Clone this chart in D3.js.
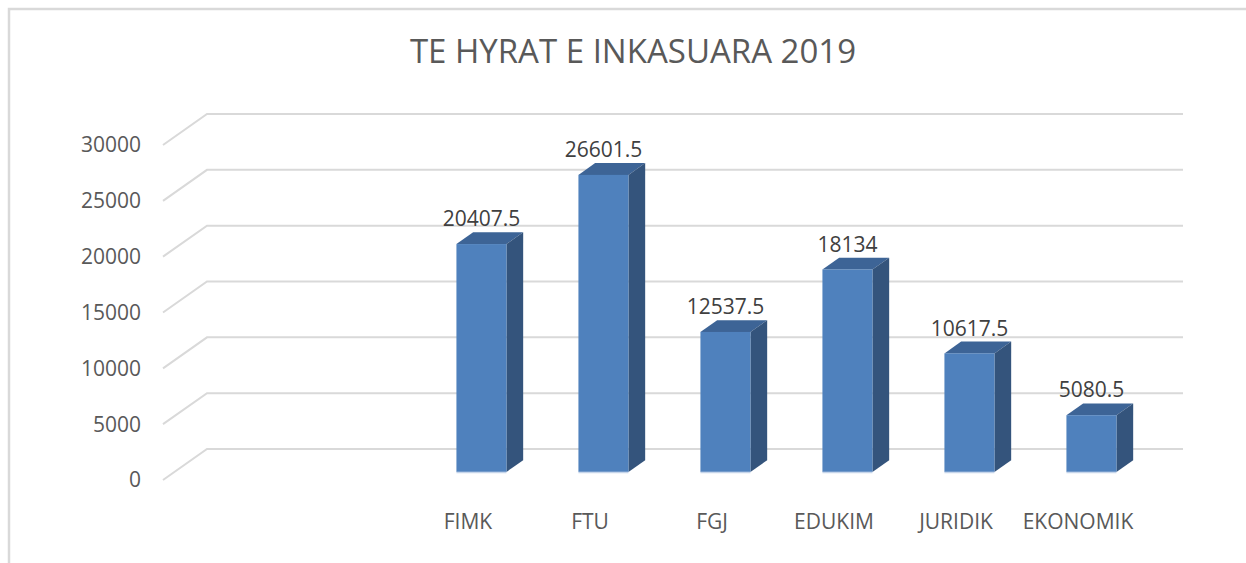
<!DOCTYPE html>
<html>
<head>
<meta charset="utf-8">
<script src="https://cdn.jsdelivr.net/npm/d3@7"></script>
<style>
  body { margin: 0; background: #fff; }
  svg { display: block; }
  text { font-family: "Open Sans", sans-serif; fill: #595959; }
</style>
</head>
<body>
<svg id="chart"></svg>
<script>
// chart data
const categories = ['', '', 'FIMK', 'FTU', 'FGJ', 'EDUKIM', 'JURIDIK', 'EKONOMIK'];
const values = [null, null, 20407.5, 26601.5, 12537.5, 18134, 10617.5, 5080.5];
const yTicks = [0, 5000, 10000, 15000, 20000, 25000, 30000];
const chartTitle = 'TE HYRAT E INKASUARA 2019';

document.addEventListener('DOMContentLoaded', () => {
  drawChart();
});

function drawChart(){
  const width = 1246, height = 563;

  let dims = {
    floorLeft: 163,
    floorRight: 1139,
    floorY: 480,
    plotHeight: 335,
    depthX: 44,
    depthY: -31,
  };

  const svg = d3.select('#chart')
    .attr('width', width)
    .attr('height', height);

  // outer border of the chart area
  svg.append('path')
    .attr('d', `M9,${height} L9,9 L${width},9`)
    .attr('fill', 'none')
    .attr('stroke', '#d9d9d9')
    .attr('stroke-width', 2.5);

  const x = d3.scaleBand()
    .domain(d3.range(categories.length))
    .range([dims.floorLeft, dims.floorRight]);

  const y = d3.scaleLinear()
    .domain([0, 30000])
    .range([dims.floorY, dims.floorY - dims.plotHeight]);

  // helper: shift a point by a fraction of the depth
  const shift = (px, py, d) => [px + dims.depthX * d, py + dims.depthY * d];

  // gridlines on side wall + back wall
  const grid = svg.append('g');
  yTicks.forEach(t => {
    const y0 = y(t);
    const back = shift(dims.floorLeft, y0, 1);
    const backR = shift(dims.floorRight, y0, 1);
    grid.append('path')
      .attr('d', `M${dims.floorLeft},${y0} L${back[0]},${back[1]} L${backR[0]},${backR[1]}`)
      .attr('fill', 'none')
      .attr('stroke', '#d9d9d9')
      .attr('stroke-width', 2);
  });

  // y tick labels
  svg.append('g').selectAll('text')
    .data(yTicks)
    .enter().append('text')
    .attr('x', 141)
    .attr('y', d => y(d))
    .attr('dy', '0.35em')
    .attr('text-anchor', 'end')
    .style('font-size', '21px')
    .text(d => d);

  // 3D bars
  const frontD = 0.26, backD = 0.64;
  const barW = x.step() * 0.41;
  const barData = values.map((v, i) => ({v, i})).filter(d => d.v != null);

  const bars = svg.append('g').selectAll('g')
    .data(barData)
    .enter().append('g');

  function barGeom(d){
    const cx = x(d.i) + x.bandwidth() / 2 + 2;
    const [fx, fy0] = shift(cx - barW / 2, y(0), frontD);
    const fyTop = fy0 - (y(0) - y(d.v));
    const ox = dims.depthX * (backD - frontD), oy = dims.depthY * (backD - frontD);
    return {fx, fy0, fyTop, ox, oy};
  }

  // top face
  bars.append('path')
    .attr('d', d => {
      const g = barGeom(d);
      return `M${g.fx},${g.fyTop} L${g.fx + g.ox},${g.fyTop + g.oy} L${g.fx + barW + g.ox},${g.fyTop + g.oy} L${g.fx + barW},${g.fyTop} Z`;
    })
    .attr('fill', '#3d6496');

  // side face
  bars.append('path')
    .attr('d', d => {
      const g = barGeom(d);
      const rx = g.fx + barW;
      return `M${rx},${g.fyTop} L${rx + g.ox},${g.fyTop + g.oy} L${rx + g.ox},${g.fy0 + g.oy} L${rx},${g.fy0} Z`;
    })
    .attr('fill', '#34547c');

  // front face
  bars.append('rect')
    .attr('x', d => barGeom(d).fx)
    .attr('y', d => barGeom(d).fyTop)
    .attr('width', barW)
    .attr('height', d => y(0) - y(d.v))
    .attr('fill', '#4f81bd');

  bars.append('line')
    .attr('x1', d => barGeom(d).fx)
    .attr('x2', d => barGeom(d).fx + barW)
    .attr('y1', d => barGeom(d).fy0 + 0.5)
    .attr('y2', d => barGeom(d).fy0 + 0.5)
    .attr('stroke', '#c6d5ea')
    .attr('stroke-width', 1.5);

  // value labels
  bars.append('text')
    .attr('x', d => barGeom(d).fx + barW / 2)
    .attr('y', d => { const g = barGeom(d); return g.fyTop + g.oy - 6; })
    .attr('text-anchor', 'middle')
    .style('font-size', '21px')
    .style('fill', '#404040')
    .text(d => d.v);

  // category labels
  svg.append('g').selectAll('text')
    .data(categories)
    .enter().append('text')
    .attr('x', (d, i) => x(i) + x.bandwidth() / 2)
    .attr('y', 529)
    .attr('text-anchor', 'middle')
    .style('font-size', '21px')
    .text(d => d);

  // title
  svg.append('text')
    .attr('x', 633)
    .attr('y', 63)
    .attr('text-anchor', 'middle')
    .style('font-size', '33px')
    .text(chartTitle);
}
</script>
</body>
</html>
